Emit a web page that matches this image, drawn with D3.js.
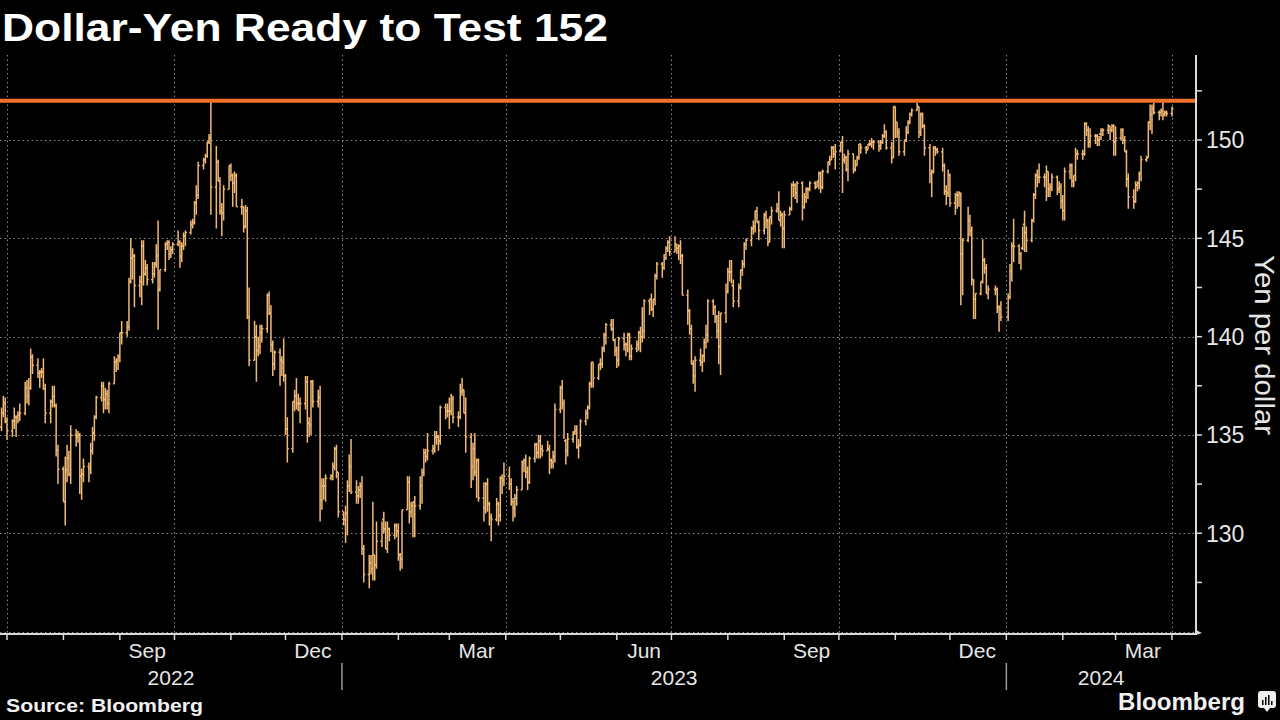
<!DOCTYPE html>
<html><head><meta charset="utf-8">
<script src="https://cdn.jsdelivr.net/npm/d3@7"></script>
<style>html,body{margin:0;background:#000;}svg{display:block;}</style>
</head><body>
<svg id="c" width="1280" height="720"></svg>
<script>
// ---------- texts & ticks ----------
const titleText = "Dollar-Yen Ready to Test 152";
const sourceText = "Source: Bloomberg";
const brandText = "Bloomberg";
const yAxisTitle = "Yen per dollar";
const yGridTicks = [125, 130, 135, 140, 145, 150];
const yLabelTicks = [130, 135, 140, 145, 150];
const yMinorTicks = [127.5, 132.5, 137.5, 142.5, 147.5, 152.5];
const resistanceLevel = 152;
const monthLabelDates = ["2022-09-01","2022-12-01","2023-03-01","2023-06-01","2023-09-01","2023-12-01","2024-03-01"];
const yearLabels = ["2022", "2023", "2024"];
const yearStarts = ["2023-01-01", "2024-01-01"];
const holidays = ["2023-12-25", "2024-01-01"];

// ---------- daily USD/JPY bars [open, high, low, close], per month ----------
const jun22 = [[135.4,136.4,135.2,136.1],[136.1,137.0,135.9,136.6],[136.6,136.9,135.6,135.7]];
const jul22 = [[135.7,135.9,134.75,135.2],[135.2,135.8,134.9,135.7],[135.7,136.4,135.3,135.9],[135.9,136.0,134.9,135.9],[135.9,136.2,135.6,136.0],[136.0,136.6,135.7,136.1],
 [136.1,137.7,136.0,137.4],[137.4,137.8,136.6,137.0],[137.0,137.9,136.5,137.4],[137.4,139.4,137.3,138.95],[138.95,139.1,138.1,138.55],
 [138.55,138.9,137.9,138.15],[138.15,138.3,137.4,138.2],[138.2,138.4,137.9,138.2],[138.2,138.9,137.3,137.35],[137.35,137.6,135.6,136.1],
 [136.1,136.8,135.6,136.7],[136.7,137.5,136.4,136.95],[136.95,137.5,136.4,136.5],[136.5,136.6,133.9,134.25],[134.25,134.5,132.5,133.25]];
const aug22 = [[133.25,133.4,131.6,131.6],[131.6,133.9,130.4,133.2],[133.2,134.5,132.6,133.8],[133.8,134.2,132.9,133.0],[133.0,135.5,132.5,135.0],
 [135.0,135.3,134.4,134.9],[134.9,135.2,134.6,135.0],[135.0,135.1,132.0,132.9],[132.9,133.3,131.7,133.0],[133.0,133.8,132.6,133.4],
 [133.4,133.6,132.6,133.3],[133.3,134.6,133.0,134.2],[134.2,135.4,134.0,135.1],[135.1,136.0,134.7,135.9],[135.9,137.0,135.8,136.9],
 [136.9,137.7,136.7,137.5],[137.5,137.7,136.1,136.8],[136.8,137.4,136.3,137.1],[137.1,137.3,136.3,136.6],[136.6,137.7,136.1,137.6],
 [137.6,139.0,137.6,138.7],[138.7,138.9,138.2,138.8],[138.8,139.1,138.3,138.95]];
const sep22 = [[138.95,140.2,138.7,140.2],[140.2,140.8,139.6,140.2],
 [140.2,140.8,140.0,140.5],[140.5,143.0,140.3,142.8],[142.8,145.0,142.7,144.0],[144.0,144.5,142.9,144.1],[144.1,144.2,141.5,142.6],
 [142.6,143.1,142.0,142.8],[142.8,144.9,141.6,144.6],[144.6,144.9,142.6,143.2],[143.2,143.9,143.1,143.5],[143.5,143.7,142.6,142.9],
 [142.9,143.8,142.7,143.2],[143.2,143.8,143.0,143.7],[143.7,144.7,143.5,144.1],[144.1,145.9,140.35,142.4],[142.4,143.4,142.3,143.4],
 [143.4,144.8,143.3,144.7],[144.7,144.9,144.4,144.8],[144.8,144.9,143.9,144.2],[144.2,144.6,144.0,144.4],[144.4,144.8,144.2,144.7]];
const oct22 = [[144.7,145.4,144.6,144.8],[144.8,144.9,143.5,144.1],[144.1,144.8,143.8,144.6],[144.6,145.3,144.4,145.1],[145.1,145.4,144.6,145.3],
 [145.3,145.9,145.2,145.7],[145.7,146.0,145.5,145.8],[145.8,146.9,145.7,146.8],[146.8,147.7,146.2,147.2],[147.2,148.9,147.0,148.7],
 [148.7,149.1,148.5,149.0],[149.0,149.3,148.8,149.2],[149.2,149.9,149.1,149.9],[149.9,150.3,149.8,150.1],[150.1,151.95,146.2,147.6],
 [147.6,149.7,145.5,148.9],[148.9,149.0,147.9,147.9],[147.9,148.1,146.2,146.4],[146.4,146.8,145.1,146.3],[146.3,147.7,145.9,147.5],
 [147.5,148.7,147.5,148.7]];
const nov22 = [[148.7,148.8,147.9,148.2],[148.2,148.3,146.6,147.8],[147.8,148.4,147.3,148.2],[148.2,148.3,146.6,146.6],
 [146.6,147.0,146.2,146.6],[146.6,146.6,145.3,145.6],[145.6,146.7,145.5,146.4],[146.4,146.6,140.9,141.0],[141.0,142.5,138.5,138.8],
 [138.8,140.8,138.8,140.0],[140.0,140.6,137.7,139.3],[139.3,140.0,139.0,139.5],[139.5,140.6,139.1,140.2],[140.2,140.6,139.7,140.4],
 [140.4,142.2,140.2,142.1],[142.1,142.3,141.1,141.2],[141.2,141.6,139.2,139.6],[139.6,139.8,138.0,138.6],[138.6,139.3,138.3,139.2],
 [139.2,139.4,137.5,138.8],[138.8,139.0,138.0,138.7],[138.7,139.9,137.7,138.0]];
const dec22 = [[138.0,138.1,135.0,135.3],[135.3,135.9,133.6,134.3],
 [134.3,136.7,134.1,136.7],[136.7,137.3,136.2,137.0],[137.0,137.9,136.3,136.6],[136.6,137.1,136.2,136.6],[136.6,136.9,135.6,136.6],
 [136.6,138.0,136.3,137.7],[137.7,138.0,134.6,135.6],[135.6,135.9,134.9,135.5],[135.5,137.8,135.0,137.7],[137.7,137.8,136.4,136.7],
 [136.7,137.3,136.4,136.9],[136.9,137.5,130.6,131.7],[131.7,132.8,131.2,132.4],[132.4,132.8,131.7,132.4],[132.4,133.0,131.6,132.8],
 [132.8,133.0,132.7,132.9],[132.9,133.6,132.7,133.4],[133.4,134.4,133.2,134.3],[134.3,134.5,132.8,133.1],[133.1,133.1,130.8,131.1]];
const jan23 = [[131.1,131.1,130.4,130.7],[130.7,131.4,129.5,131.0],[131.0,132.7,129.9,132.4],[132.4,134.0,132.1,133.4],[133.4,134.8,132.0,132.1],
 [132.1,132.7,131.5,131.9],[131.9,132.4,131.5,132.2],[132.2,132.6,131.8,132.4],[132.4,132.9,128.9,129.2],[129.2,129.4,127.5,127.9],
 [127.9,128.9,127.2,128.5],[128.5,128.9,127.9,128.2],[128.2,131.6,127.6,128.9],[128.9,128.9,127.6,128.4],[128.4,130.6,128.2,129.6],
 [129.6,130.6,129.3,130.7],[130.7,131.1,130.0,130.2],[130.2,130.6,129.2,129.2],[129.2,130.6,129.0,130.2],[130.2,130.3,129.6,129.9],
 [129.9,130.5,129.7,130.4],[130.4,130.5,129.8,130.1]];
const feb23 = [[130.1,130.5,128.6,128.9],[128.9,129.0,128.1,128.7],[128.7,131.2,128.2,131.2],
 [131.2,132.9,131.2,132.6],[132.6,132.9,130.5,131.1],[131.1,131.6,130.8,131.4],[131.4,131.6,129.8,131.6],[131.6,131.9,129.8,131.4],
 [131.4,132.9,131.2,132.4],[132.4,133.3,131.5,133.1],[133.1,134.3,132.9,134.1],[134.1,134.3,133.6,133.9],[133.9,135.1,133.7,134.2],
 [134.2,134.5,134.0,134.3],[134.3,135.2,134.1,134.9],[134.9,135.2,134.5,134.9],[134.9,135.0,134.2,134.7],[134.7,136.5,134.5,136.4],
 [136.4,136.6,135.8,136.2],[136.2,136.6,135.9,136.2]];
const mar23 = [[136.2,136.9,135.3,136.2],[136.2,137.1,136.0,136.8],[136.8,137.0,135.6,135.9],
 [135.9,136.2,135.4,135.9],[135.9,137.6,135.8,137.2],[137.2,137.9,137.0,137.3],[137.3,137.3,136.1,136.1],[136.1,136.9,134.1,134.9],
 [134.9,135.1,132.3,133.4],[133.4,134.6,132.7,134.3],[134.3,135.1,132.9,133.1],[133.1,133.8,131.8,133.7],[133.7,133.8,131.6,131.8],
 [131.8,132.6,130.6,131.3],[131.3,132.6,131.0,132.5],[132.5,132.8,131.1,131.5],[131.5,131.6,130.4,130.8],[130.8,131.0,129.6,130.7],
 [130.7,131.8,130.6,131.5],[131.5,131.6,130.4,130.9],[130.9,132.9,130.6,132.8],[132.8,133.0,132.0,132.7],[132.7,133.6,132.4,132.9]];
const apr23 = [[132.9,133.4,132.2,132.5],[132.5,132.8,131.4,131.6],[131.6,131.8,130.6,131.3],[131.3,132.0,130.8,131.8],[131.8,132.4,131.4,132.2],
 [132.2,133.7,132.2,133.6],[133.6,133.8,133.1,133.7],[133.7,134.0,132.8,133.1],[133.1,133.4,132.2,132.6],[132.6,133.9,132.5,133.8],
 [133.8,134.6,133.6,134.5],[134.5,134.6,133.8,134.1],[134.1,135.0,133.8,134.7],[134.7,135.0,133.8,134.3],[134.3,134.5,133.9,134.2],
 [134.2,134.7,134.2,134.3],[134.3,134.5,133.0,133.7],[133.7,133.8,133.3,133.6],[133.6,134.2,133.3,133.9],[133.9,136.6,133.6,136.3]];
const may23 = [[136.3,137.5,136.1,137.4],[137.4,137.8,136.3,136.6],[136.6,136.8,134.8,134.7],[134.7,134.8,133.5,134.2],[134.2,135.1,133.9,134.8],
 [134.8,135.2,134.6,135.1],[135.1,135.5,135.0,135.2],[135.2,135.5,134.3,134.4],[134.4,134.8,133.8,134.5],[134.5,135.8,134.4,135.7],
 [135.7,136.3,135.5,136.1],[136.1,136.5,135.8,136.4],[136.4,137.7,136.3,137.6],[137.6,138.7,137.4,138.7],[138.7,138.7,137.4,137.9],
 [137.9,138.6,137.8,138.6],[138.6,138.9,138.3,138.6],[138.6,139.5,138.4,139.4],[139.4,140.2,139.2,140.1],[140.1,140.7,139.6,140.6],
 [140.6,140.9,140.3,140.4],[140.4,140.9,139.8,139.8],[139.8,139.9,139.0,139.3]];
const jun23 = [[139.3,139.5,138.4,138.8],[138.8,140.0,138.5,139.9],
 [139.9,140.2,139.3,139.6],[139.6,139.7,139.0,139.6],[139.6,140.2,139.2,140.1],[140.1,140.2,138.8,139.0],[139.0,139.6,138.8,139.4],
 [139.4,139.8,139.2,139.6],[139.6,140.3,139.3,140.2],[140.2,140.5,139.2,140.0],[140.0,141.5,139.7,140.3],[140.3,141.9,139.9,141.8],
 [141.8,141.9,141.1,141.9],[141.9,142.2,141.3,141.4],[141.4,141.9,141.0,141.9],[141.9,143.2,141.6,143.1],[143.1,143.8,142.9,143.7],
 [143.7,143.8,143.0,143.5],[143.5,144.2,143.4,144.0],[144.0,144.6,143.9,144.5],[144.5,144.9,144.3,144.8],[144.8,145.1,144.1,144.3]];
const jul23 = [[144.3,145.1,144.3,144.7],[144.7,144.7,144.2,144.5],[144.5,144.7,143.9,144.6],[144.6,144.9,143.7,144.1],[144.1,144.2,142.1,142.1],
 [142.1,142.4,140.6,141.3],[141.3,141.4,140.1,140.4],[140.4,140.6,138.6,138.6],[138.6,138.8,137.6,138.0],[138.0,139.0,137.2,138.8],
 [138.8,139.4,138.5,138.7],[138.7,139.1,138.2,139.0],[139.0,139.9,138.7,139.7],[139.7,140.6,139.4,140.1],[140.1,141.9,139.7,141.8],
 [141.8,141.9,141.1,141.5],[141.5,141.6,140.7,141.0],[141.0,141.1,139.9,140.3],[140.3,141.3,138.6,139.5],[139.5,141.2,138.05,141.2],
 [141.2,142.7,140.7,142.3]];
const aug23 = [[142.3,143.5,142.2,143.3],[143.3,143.9,142.8,143.3],[143.3,143.9,142.7,142.6],[142.6,142.9,141.5,141.8],
 [141.8,142.7,141.5,142.5],[142.5,143.4,142.4,143.4],[143.4,143.9,143.1,143.7],[143.7,144.8,143.5,144.7],[144.7,145.0,144.4,144.9],
 [144.9,145.6,144.6,145.5],[145.5,145.9,145.2,145.6],[145.6,146.4,145.3,146.4],[146.4,146.6,145.8,145.8],[145.8,145.9,144.9,145.4],
 [145.4,146.3,145.2,146.2],[146.2,146.4,145.5,145.9],[145.9,146.0,144.6,144.8],[144.8,146.1,144.8,146.1],[146.1,146.6,145.7,146.4],
 [146.4,146.8,146.3,146.5],[146.5,147.4,145.9,145.9],[145.9,146.4,145.6,146.2],[146.2,146.3,144.5,145.5]];
const sep23 = [[145.5,146.4,144.5,146.2],
 [146.2,146.6,146.2,146.5],[146.5,147.8,146.4,147.7],[147.7,147.9,147.1,147.7],[147.7,147.8,147.0,147.3],[147.3,147.9,146.8,147.8],
 [147.8,147.9,145.9,146.6],[146.6,147.3,146.5,147.1],[147.1,147.6,146.8,147.5],[147.5,147.6,147.0,147.5],[147.5,147.9,147.4,147.8],
 [147.8,147.9,147.5,147.6],[147.6,147.9,147.6,147.9],[147.9,148.4,147.5,148.3],[148.3,148.4,147.3,147.6],[147.6,148.5,147.5,148.4],
 [148.4,148.9,148.3,148.9],[148.9,149.2,148.7,149.0],[149.0,149.7,149.0,149.6],[149.6,149.7,149.1,149.3],[149.3,149.8,148.5,149.4]];
const oct23 = [[149.4,149.9,149.4,149.9],[149.9,150.2,147.3,149.0],[149.0,149.3,148.8,149.1],[149.1,149.2,148.4,148.5],[148.5,149.5,147.9,149.3],
 [149.3,149.3,148.3,148.5],[148.5,149.0,148.4,148.7],[148.7,149.2,148.7,149.1],[149.1,149.8,149.0,149.8],[149.8,149.8,149.3,149.6],
 [149.6,149.7,149.3,149.5],[149.5,149.8,149.5,149.8],[149.8,150.0,149.7,149.8],[149.8,150.1,149.6,149.9],[149.9,150.0,149.5,149.9],
 [149.9,150.0,149.4,149.7],[149.7,150.0,149.5,149.9],[149.9,150.3,149.8,150.2],[150.2,150.8,150.1,150.4],[150.4,150.5,149.5,149.6],
 [149.6,149.9,148.8,149.1],[149.1,151.7,149.1,151.7]];
const nov23 = [[151.7,151.7,150.1,150.9],[150.9,150.9,150.1,150.4],[150.4,150.6,149.2,149.4],
 [149.4,150.0,149.2,150.0],[150.0,150.7,149.9,150.4],[150.4,151.0,150.3,150.9],[150.9,151.4,150.8,151.3],[151.3,151.6,151.2,151.5],
 [151.5,151.9,151.5,151.7],[151.7,151.7,150.1,150.4],[150.4,151.4,150.2,151.3],[151.3,151.4,150.6,150.7],[150.7,150.8,149.2,149.6],
 [149.6,149.8,147.8,148.3],[148.3,148.5,147.1,148.4],[148.4,149.7,148.3,149.6],[149.6,149.7,149.2,149.5],[149.5,149.6,149.3,149.4],
 [149.4,149.6,148.4,148.7],[148.7,148.8,147.2,147.4],[147.4,147.7,146.7,147.3],[147.3,148.5,147.1,148.2]];
const dec23 = [[148.2,148.3,146.6,146.8],
 [146.8,147.3,146.2,147.2],[147.2,147.4,146.5,147.2],[147.2,147.4,146.6,147.3],[147.3,147.3,141.6,144.2],[144.2,145.0,142.1,144.9],
 [144.9,146.6,144.8,145.9],[145.9,146.2,145.1,145.4],[145.4,145.6,142.6,142.9],[142.9,142.9,140.9,141.9],[141.9,142.2,140.9,142.2],
 [142.2,142.8,142.1,142.8],[142.8,144.95,142.7,143.9],[143.9,144.0,143.2,143.5],[143.5,143.7,142.2,142.2],[142.2,142.6,141.9,142.4],
 [142.4,142.6,142.1,142.4],[142.4,142.5,141.2,141.5],[141.5,141.6,140.25,141.4],[141.4,141.8,140.8,141.0]];
const jan24 = [[141.0,142.2,140.8,142.0],[142.0,143.7,141.9,143.3],[143.3,144.8,142.8,144.6],[144.6,146.0,143.8,144.6],
 [144.6,144.7,143.7,144.2],[144.2,144.3,143.4,144.5],[144.5,145.6,144.4,145.7],[145.7,146.4,144.3,145.3],[145.3,145.6,144.3,144.9],
 [144.9,146.0,144.8,145.9],[145.9,147.3,145.8,147.2],[147.2,148.3,147.0,148.2],[148.2,148.5,147.6,148.1],[148.1,148.8,147.8,148.1],
 [148.1,148.3,147.6,148.1],[148.1,148.7,146.9,148.4],[148.4,148.4,147.1,147.5],[147.5,147.8,147.1,147.6],[147.6,148.3,147.4,148.1],
 [148.1,148.2,147.2,147.5],[147.5,147.9,147.3,147.6],[147.6,147.8,146.5,146.9]];
const feb24 = [[146.9,147.2,145.9,146.4],[146.4,148.6,145.9,148.4],
 [148.4,148.8,148.0,148.7],[148.7,148.8,147.6,147.9],[147.9,148.2,147.6,148.2],[148.2,149.6,147.9,149.3],[149.3,149.5,149.0,149.3],
 [149.3,149.5,149.0,149.3],[149.3,150.9,149.2,150.8],[150.8,150.9,150.2,150.5],[150.5,150.7,149.6,149.9],[149.9,150.6,149.6,150.2],
 [150.2,150.3,149.8,150.2],[150.2,150.3,149.7,150.0],[150.0,150.2,149.7,150.3],[150.3,150.6,150.0,150.5],[150.5,150.6,150.2,150.5],
 [150.5,150.8,150.3,150.7],[150.7,150.7,150.0,150.5],[150.5,150.8,150.4,150.7],[150.7,150.8,149.2,149.9]];
const mar24 = [[149.9,150.7,149.2,150.1],
 [150.1,150.6,150.0,150.5],[150.5,150.6,149.8,150.0],[150.0,150.2,149.4,149.4],[149.4,149.5,147.6,148.0],[148.0,148.3,146.5,147.1],
 [147.1,147.5,146.5,146.9],[146.9,147.9,146.8,147.7],[147.7,147.9,147.4,147.8],[147.8,148.4,147.5,148.3],[148.3,149.2,147.9,149.0],
 [149.0,149.2,148.9,149.1],[149.1,150.95,149.1,150.9],[150.9,151.8,150.5,151.3],[151.3,151.8,150.3,151.6],[151.6,151.9,151.3,151.4],
 [151.4,151.5,151.0,151.4],[151.4,151.6,151.2,151.5],[151.5,151.97,151.0,151.3],[151.3,151.5,151.2,151.4],[151.4,151.5,151.2,151.35]];
const apr24 = [[151.35,151.7,151.2,151.6]];

const monthStarts = ["2022-06-28","2022-07-01","2022-08-01","2022-09-01","2022-10-03","2022-11-01","2022-12-01",
 "2023-01-02","2023-02-01","2023-03-01","2023-04-03","2023-05-01","2023-06-01","2023-07-03","2023-08-01","2023-09-01",
 "2023-10-02","2023-11-01","2023-12-01","2024-01-02","2024-02-01","2024-03-01","2024-04-01"];
const monthSeries = [jun22,jul22,aug22,sep22,oct22,nov22,dec22,jan23,feb23,mar23,apr23,may23,jun23,jul23,aug23,sep23,oct23,nov23,dec23,jan24,feb24,mar24,apr24];

// ---------- build bars ----------
const parse = d3.timeParse("%Y-%m-%d");
const fmt = d3.timeFormat("%Y-%m-%d");
const bars = [];
monthSeries.forEach((arr, i) => {
  let d = parse(monthStarts[i]);
  arr.forEach(v => {
    while (d.getDay() === 0 || d.getDay() === 6 || holidays.includes(fmt(d))) d = d3.timeDay.offset(d, 1);
    bars.push({date: d, o: v[0], h: v[1], l: v[2], c: v[3]});
    d = d3.timeDay.offset(d, 1);
  });
});

// ---------- layout ----------
const W = 1280, H = 720;
const plotL = 0, plotR = 1196, plotT = 55, plotB = 634;
const FONT = "'Liberation Sans', Arial, sans-serif";
const svg = d3.select("#c");
svg.append("rect").attr("width", W).attr("height", H).attr("fill", "#000");

const x = d3.scaleTime().domain([parse("2022-07-01"), parse("2024-04-01")]).range([7, 1172]);
const y = d3.scaleLinear().domain([125, 150]).range([631.6, 140]);
const xMin = x.invert(plotL), xMax = x.invert(plotR);

// gridlines
const grid = svg.append("g").attr("stroke", "#8a8a8a").attr("stroke-width", 1).attr("stroke-dasharray", "1.5,3");
grid.selectAll("line.h").data(yGridTicks).join("line")
  .attr("x1", plotL).attr("x2", plotR).attr("y1", d => Math.round(y(d)) + 0.5).attr("y2", d => Math.round(y(d)) + 0.5);
const quarterStarts = d3.timeMonth.every(3).range(d3.timeMonth.ceil(xMin), xMax).filter(d => d.getMonth() % 3 === 0);
grid.selectAll("line.v").data(quarterStarts).join("line")
  .attr("y1", plotT).attr("y2", plotB).attr("x1", d => Math.round(x(d)) + 0.5).attr("x2", d => Math.round(x(d)) + 0.5);

// OHLC bars
const barColor = "#efb975";
svg.append("g").attr("stroke", barColor).attr("stroke-width", 1.5).attr("fill", "none")
  .selectAll("path").data(bars).join("path")
  .attr("d", d => {
    const cx = x(d.date);
    return `M${cx},${y(d.h)}V${y(d.l)}M${cx - 1.5},${y(d.o)}H${cx}M${cx},${y(d.c)}H${cx + 1.5}`;
  });

// resistance line
svg.append("line").attr("x1", plotL).attr("x2", plotR)
  .attr("y1", y(resistanceLevel)).attr("y2", y(resistanceLevel))
  .attr("stroke", "#f0702a").attr("stroke-width", 4);

// axes lines
const axisColor = "#d9d9d9";
svg.append("line").attr("x1", plotL).attr("x2", plotR + 1).attr("y1", plotB).attr("y2", plotB)
  .attr("stroke", axisColor).attr("stroke-width", 2);
svg.append("line").attr("x1", plotR).attr("x2", plotR).attr("y1", plotT).attr("y2", plotB + 1)
  .attr("stroke", axisColor).attr("stroke-width", 2);
svg.append("path").attr("d", `M${plotR},${plotB - 4}L${plotR + 6},${plotB - 1}L${plotR},${plotB + 1}Z`).attr("fill", axisColor);

// x ticks (monthly)
const monthTicks = d3.timeMonth.range(d3.timeMonth.ceil(xMin), xMax);
svg.append("g").attr("stroke", axisColor).attr("stroke-width", 1.5)
  .selectAll("line").data(monthTicks).join("line")
  .attr("x1", d => x(d)).attr("x2", d => x(d)).attr("y1", plotB).attr("y2", plotB + 6);

// month labels at mid-month
const monFmt = d3.timeFormat("%b");
svg.append("g").selectAll("text").data(monthLabelDates.map(parse)).join("text")
  .attr("x", d => x(d3.timeDay.offset(d, 15))).attr("y", 658)
  .attr("text-anchor", "middle").attr("fill", "#e6e6e6")
  .attr("font-family", FONT).attr("font-size", 21).text(d => monFmt(d));

// year labels and separators
const yb = [xMin, ...yearStarts.map(parse), xMax];
svg.append("g").selectAll("text").data(yearLabels).join("text")
  .attr("x", (d, i) => (x(yb[i]) + x(yb[i + 1])) / 2).attr("y", 685)
  .attr("text-anchor", "middle").attr("fill", "#e6e6e6")
  .attr("font-family", FONT).attr("font-size", 21).text(d => d);
svg.append("g").attr("stroke", "#9a9a9a").attr("stroke-width", 1.5)
  .selectAll("line").data(yearStarts.map(parse)).join("line")
  .attr("x1", d => x(d)).attr("x2", d => x(d)).attr("y1", 663).attr("y2", 690);

// y ticks and labels (right)
svg.append("g").attr("stroke", axisColor).attr("stroke-width", 1.5)
  .selectAll("line").data(yLabelTicks.concat(yMinorTicks)).join("line")
  .attr("x1", plotR).attr("x2", plotR + 6).attr("y1", d => y(d)).attr("y2", d => y(d));
svg.append("g").selectAll("text").data(yLabelTicks).join("text")
  .attr("x", 1206).attr("y", d => y(d)).attr("dy", "0.36em")
  .attr("fill", "#e6e6e6").attr("font-family", FONT).attr("font-size", 23).text(d => d);

// y axis title
svg.append("text").attr("transform", "translate(1255,345) rotate(90)")
  .attr("text-anchor", "middle").attr("fill", "#e6e6e6")
  .attr("font-family", FONT).attr("font-size", 27)
  .attr("textLength", 180).attr("lengthAdjust", "spacingAndGlyphs").text(yAxisTitle);

// title
svg.append("text").attr("x", 2).attr("y", 41).attr("fill", "#ffffff")
  .attr("font-family", FONT).attr("font-weight", "bold").attr("font-size", 39)
  .attr("textLength", 606).attr("lengthAdjust", "spacingAndGlyphs").text(titleText);

// source
svg.append("text").attr("x", 6).attr("y", 712).attr("fill", "#f0f0f0")
  .attr("font-family", FONT).attr("font-weight", "bold").attr("font-size", 18)
  .attr("textLength", 197).attr("lengthAdjust", "spacingAndGlyphs").text(sourceText);

// brand
svg.append("text").attr("x", 1245).attr("y", 710).attr("text-anchor", "end").attr("fill", "#f0f0f0")
  .attr("font-family", FONT).attr("font-weight", "bold").attr("font-size", 23)
  .attr("textLength", 127).attr("lengthAdjust", "spacingAndGlyphs").text(brandText);
const icon = svg.append("g").attr("transform", "translate(1258,691)");
icon.append("rect").attr("width", 18).attr("height", 17).attr("rx", 3).attr("fill", "#eeeeee");
icon.append("path").attr("d", "M6,17L9,21L12,17Z").attr("fill", "#eeeeee");
icon.append("g").attr("fill", "#000").selectAll("rect").data([[5,9,1.5,5],[8,6,1.5,8],[11,4,1.5,10],[14,10,1.5,4]]).join("rect")
  .attr("x", d => d[0] - 1).attr("y", d => d[1]).attr("width", d => d[2]).attr("height", d => d[3]);
</script>
</body></html>
